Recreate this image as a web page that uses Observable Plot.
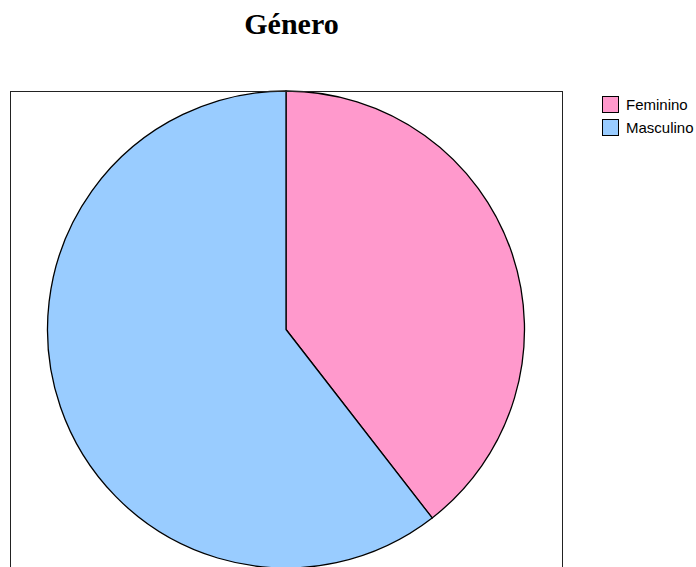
<!DOCTYPE html>
<html>
<head>
<meta charset="utf-8">
<script src="https://cdn.jsdelivr.net/npm/d3@7"></script>
<script src="https://cdn.jsdelivr.net/npm/@observablehq/plot@0.6"></script>
<style>
  html, body { margin: 0; padding: 0; background: #fff; overflow: hidden; }
  #wrap { position: relative; width: 696px; height: 567px; overflow: hidden; }
  #wrap svg { position: absolute; left: 0; top: 0; }
  #title { position: absolute; left: 0; top: 9px; width: 583px; text-align: center;
           font: bold 30px "Liberation Serif", "Times New Roman", serif; line-height: 30px; color: #000; }
  .lg { position: absolute; left: 602px; height: 17px; display: flex; align-items: center;
        font: 15px "Liberation Sans", Arial, sans-serif; color: #000; white-space: nowrap; }
  .lg .sw { width: 17px; height: 17px; box-sizing: border-box; border: 1.5px solid #000; margin-right: 7px; }
</style>
</head>
<body>
<div id="wrap">
  <div id="title"></div>
</div>
<script>
const chartTitle = "Género";
const categories = ["Feminino", "Masculino"];
const values = [39.5, 60.5];
const colors = ["#FF99CC", "#99CCFF"];

const rows = categories.map((c, i) => ({category: c, value: values[i]}));

document.getElementById("title").textContent = chartTitle;

const pieMark = (index, scales, vals, dims) => {
  const cx = scales.x(0);
  const cy = scales.y(0);
  const r = Math.abs(scales.y(-1) - scales.y(1)) / 2;
  const arcs = d3.pie().sort(null).value(d => d.value)(rows);
  const arc = d3.arc().innerRadius(0).outerRadius(r);
  const g = d3.create("svg:g").attr("transform", `translate(${cx},${cy})`);
  g.selectAll("path").data(arcs).join("path")
    .attr("d", arc)
    .attr("fill", d => scales.color(d.data.category))
    .attr("stroke", "#000")
    .attr("stroke-width", 1.3)
    .attr("stroke-linejoin", "round");
  return g.node();
};

const chart = Plot.plot({
  width: 696,
  height: 568,
  marginLeft: 10,
  marginRight: 134,
  marginTop: 91,
  marginBottom: 0,
  x: {domain: [-1, 1], axis: null},
  y: {domain: [-1, 1], axis: null},
  color: {domain: categories, range: colors},
  marks: [
    Plot.dot(rows, {x: () => 0, y: () => 0, fill: "category", r: 0}),
    pieMark,
    Plot.frame({stroke: "#222", strokeWidth: 1})
  ]
});
document.getElementById("wrap").appendChild(chart);

const wrap = document.getElementById("wrap");
categories.forEach((c, i) => {
  const row = document.createElement("div");
  row.className = "lg";
  row.style.top = (96 + i * 22.7) + "px";
  const sw = document.createElement("div");
  sw.className = "sw";
  sw.style.background = colors[i];
  const t = document.createElement("span");
  t.textContent = c;
  row.appendChild(sw);
  row.appendChild(t);
  wrap.appendChild(row);
});
</script>
</body>
</html>
